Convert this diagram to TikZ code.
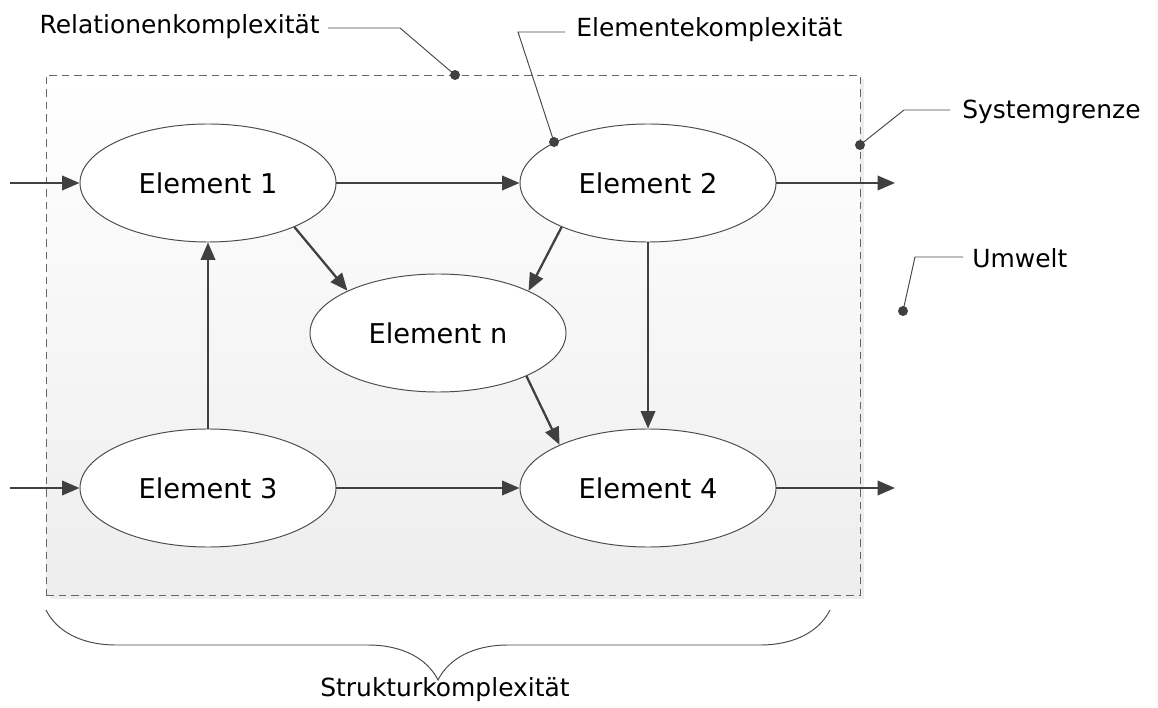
\documentclass[tikz,border=0pt]{standalone}
\usepackage{fontspec}
\setmainfont{DejaVu Sans}
\usetikzlibrary{shapes.geometric,arrows.meta,decorations.pathreplacing}
\definecolor{linegray}{HTML}{404040}
\definecolor{thingray}{HTML}{4A4A4A}
\definecolor{boundgray}{HTML}{666666}

\begin{document}
\begin{tikzpicture}[
  element/.style={draw=thingray, ellipse, fill=white, line width=0.55pt,
                  minimum width=5.12cm, minimum height=2.36cm, inner sep=0pt,
                  font=\fontsize{15.5}{18}\selectfont},
  flow/.style={draw=linegray, line width=1.3pt,
               -{Triangle[length=3.5mm,width=2.9mm]}},
  callout/.style={draw=thingray, line width=0.55pt},
  note/.style={font=\fontsize{14.2}{17}\selectfont, inner sep=0pt},
  dot/.style={fill=linegray}
]
  \useasboundingbox (0,0) rectangle (23.16,14.14);
  \fill[gray!14] (1.0,2.16) rectangle (17.28,12.56);
  \node[draw=boundgray, dashed, dash pattern=on 1.5mm off 1mm,
        top color=white, bottom color=gray!14, line width=0.55pt,
        minimum width=16.28cm, minimum height=10.4cm, inner sep=0pt]
        (sys) at (9.06,7.44) {};

  \node[element] (e1) at (4.16,10.48)  {Element 1};
  \node[element] (e2) at (12.96,10.48) {Element 2};
  \node[element] (en) at (8.76,7.48)   {Element n};
  \node[element] (e3) at (4.16,4.38)   {Element 3};
  \node[element] (e4) at (12.96,4.38)  {Element 4};

  \coordinate (in1)  at (0.2,10.48);
  \coordinate (in3)  at (0.2,4.38);
  \coordinate (out2) at (17.9,10.48);
  \coordinate (out4) at (17.9,4.38);

  \draw[flow] (in1) -- (e1.west);
  \draw[flow] (in3) -- (e3.west);
  \draw[flow] (e1) -- (e2);
  \draw[flow] (e3) -- (e4);
  \draw[flow] (e2.east) -- (out2);
  \draw[flow] (e4.east) -- (out4);
  \draw[flow] (e3.north) -- (e1.south);
  \draw[flow] (e2.south) -- (e4.north);
  \draw[flow] (e1.-27) -- (en.155);
  \draw[flow] (e2.-153) -- (en.25);
  \draw[flow] (en.-26) -- (e4.154);

  \node[note, anchor=east] (rel) at (6.4,13.6) {Relationenkomplexität};
  \coordinate (relknee) at (8.0,13.58);
  \coordinate (reldot)  at (9.1,12.64);
  \draw[callout] (6.56,13.58) -- (relknee) -- (reldot);
  \fill[dot] (reldot) circle (0.1);

  \node[note, anchor=west] (elm) at (11.52,13.54) {Elementekomplexität};
  \coordinate (elmknee) at (10.36,13.5);
  \coordinate (elmdot)  at (11.08,11.3);
  \draw[callout] (11.3,13.5) -- (elmknee) -- (elmdot);
  \fill[dot] (elmdot) circle (0.1);

  \node[note, anchor=west] (grenze) at (19.24,11.9) {Systemgrenze};
  \coordinate (grenzeknee) at (18.08,11.94);
  \coordinate (grenzedot)  at (17.2,11.24);
  \draw[callout] (19.0,11.94) -- (grenzeknee) -- (grenzedot);
  \fill[dot] (grenzedot) circle (0.1);

  \node[note, anchor=west] (umwelt) at (19.44,8.98) {Umwelt};
  \coordinate (umweltknee) at (18.3,9.0);
  \coordinate (umweltdot)  at (18.06,7.92);
  \draw[callout] (19.26,9.0) -- (umweltknee) -- (umweltdot);
  \fill[dot] (umweltdot) circle (0.1);

  \draw[callout, decorate, decoration={brace, mirror, amplitude=1.4cm}]
        (0.92,1.94) -- (16.6,1.94);
  \node[note] (struktur) at (8.9,0.34) {Strukturkomplexität};
\end{tikzpicture}
\end{document}
